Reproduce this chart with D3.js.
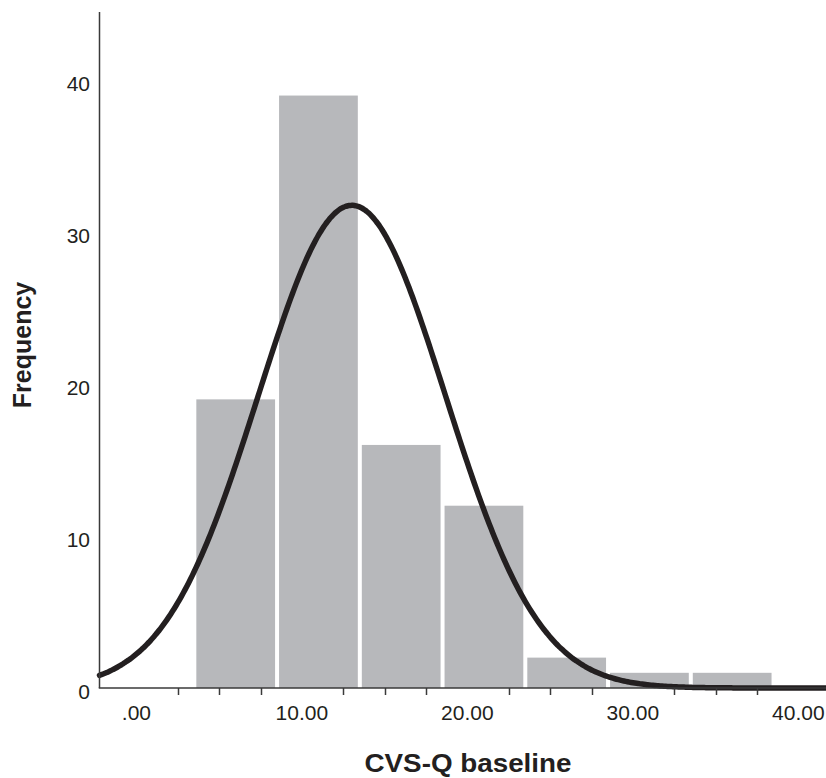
<!DOCTYPE html>
<html>
<head>
<meta charset="utf-8">
<script src="https://cdn.jsdelivr.net/npm/d3@7"></script>
<style>
  html, body { margin: 0; padding: 0; background: #fff; }
  svg { display: block; }
  text { font-family: "Liberation Sans", Arial, sans-serif; fill: #231f20; }
</style>
</head>
<body>
<svg id="chart" width="826" height="778"></svg>
<script>
// ---- data ----
const binStarts = [3.5, 8.5, 13.5, 18.5, 23.5, 28.5, 33.5];
const binWidth = 5;
const frequencies = [19, 39, 16, 12, 2, 1, 1];
const xTickLabels = [0, 10, 20, 30, 40];
const xTickLabelText = [".00", "10.00", "20.00", "30.00", "40.00"];
const xMinorTicks = [2.5, 5, 7.5, 12.5, 15, 17.5, 22.5, 25, 27.5, 32.5, 35, 37.5];
const yTicks = [0, 10, 20, 30, 40];
const curveMean = 13.02;
const curveSD = 5.65;
const totalN = 90;

// ---- layout ----
const svg = d3.select("#chart");
const x = d3.scaleLinear().domain([-2.23, 41.67]).range([99.5, 826]);
const y = d3.scaleLinear().domain([0, 44.5]).range([688, 12]);

// bars
svg.append("g").selectAll("rect")
  .data(binStarts.map((s, i) => ({ lo: s, hi: s + binWidth, f: frequencies[i] })))
  .join("rect")
  .attr("x", d => x(d.lo) + 2)
  .attr("width", d => x(d.hi) - x(d.lo) - 4)
  .attr("y", d => y(d.f))
  .attr("height", d => y(0) - y(d.f))
  .attr("fill", "#b7b8bb");

// normal curve
const normal = v => totalN * binWidth / (curveSD * Math.sqrt(2 * Math.PI)) *
  Math.exp(-0.5 * Math.pow((v - curveMean) / curveSD, 2));
const xs = d3.range(400).map(i => x.domain()[0] + (x.domain()[1] - x.domain()[0]) * i / 399);
svg.append("path")
  .datum(xs)
  .attr("d", d3.line().x(d => x(d)).y(d => y(normal(d))).curve(d3.curveBasis))
  .attr("fill", "none")
  .attr("stroke", "#231f20")
  .attr("stroke-width", 5.5)
  .attr("stroke-linecap", "round");

// axes
const axisColor = "#3a3a3a";
svg.append("line")
  .attr("x1", x.range()[0]).attr("x2", x.range()[0])
  .attr("y1", y.range()[1]).attr("y2", y(0))
  .attr("stroke", axisColor).attr("stroke-width", 1.5);
svg.append("line")
  .attr("x1", x.range()[0] - 0.75).attr("x2", x.range()[1])
  .attr("y1", y(0)).attr("y2", y(0))
  .attr("stroke", axisColor).attr("stroke-width", 1.5);

// x minor ticks
svg.append("g").selectAll("line")
  .data(xMinorTicks)
  .join("line")
  .attr("x1", d => Math.round(x(d)) + 0.5).attr("x2", d => Math.round(x(d)) + 0.5)
  .attr("y1", y(0)).attr("y2", y(0) + 7)
  .attr("stroke", axisColor).attr("stroke-width", 1.5);

// x tick labels
svg.append("g").selectAll("text")
  .data(xTickLabels)
  .join("text")
  .attr("x", d => x(d))
  .attr("y", 720)
  .attr("text-anchor", "middle")
  .attr("font-size", 21)
  .text((d, i) => xTickLabelText[i]);

// y tick labels
svg.append("g").selectAll("text")
  .data(yTicks)
  .join("text")
  .attr("x", 90)
  .attr("y", d => y(d) + 11)
  .attr("text-anchor", "end")
  .attr("font-size", 21)
  .text(d => d);

// axis titles
svg.append("text")
  .attr("transform", "translate(31,345) rotate(-90)")
  .attr("text-anchor", "middle")
  .attr("font-size", 25)
  .attr("font-weight", "bold")
  .text("Frequency");

svg.append("text")
  .attr("x", 468)
  .attr("y", 772)
  .attr("text-anchor", "middle")
  .attr("font-size", 25)
  .attr("font-weight", "bold")
  .attr("textLength", 207)
  .attr("lengthAdjust", "spacingAndGlyphs")
  .text("CVS-Q baseline");
</script>
</body>
</html>
